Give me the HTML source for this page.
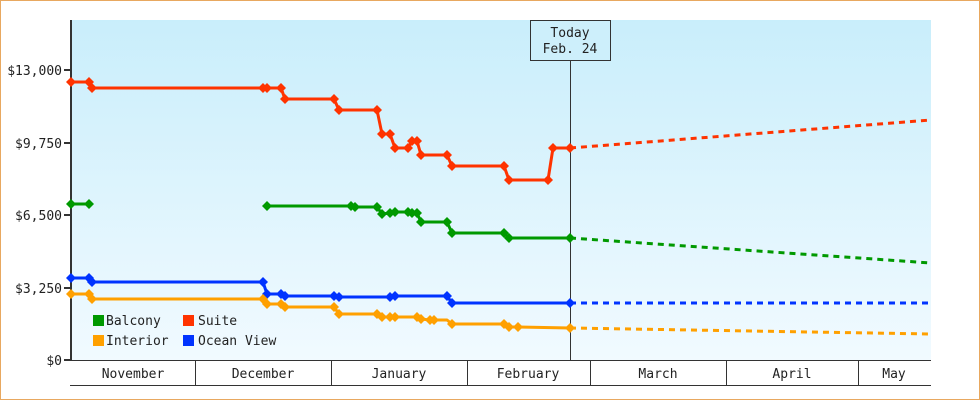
<!DOCTYPE html>
<html><head><meta charset="utf-8"><style>
body{margin:0;background:#fff}
svg{display:block}
text{font-family:"DejaVu Sans Mono","Liberation Mono",monospace;font-size:13px;fill:#222}
</style></head><body>
<svg width="980" height="400" viewBox="0 0 980 400" xmlns="http://www.w3.org/2000/svg">
<defs><linearGradient id="g" x1="0" y1="0" x2="0" y2="1"><stop offset="0" stop-color="#c9eefb"/><stop offset="1" stop-color="#f1faff"/></linearGradient></defs>
<rect x="0.5" y="0.5" width="979" height="399" fill="#fff" stroke="#e8a860"/>
<rect x="71" y="20" width="860" height="340" fill="url(#g)"/>
<g stroke="#333" stroke-width="2">
<line x1="71" y1="20" x2="71" y2="361"/>
<line x1="64" y1="70" x2="71" y2="70"/><line x1="64" y1="143" x2="71" y2="143"/><line x1="64" y1="215" x2="71" y2="215"/><line x1="64" y1="288" x2="71" y2="288"/><line x1="64" y1="360" x2="71" y2="360"/>
</g>
<g stroke="#333" stroke-width="1">
<line x1="70" y1="360.5" x2="931" y2="360.5"/><line x1="70" y1="385.5" x2="931" y2="385.5"/>
<line x1="195.5" y1="360" x2="195.5" y2="385"/><line x1="331.5" y1="360" x2="331.5" y2="385"/><line x1="467.5" y1="360" x2="467.5" y2="385"/><line x1="590.5" y1="360" x2="590.5" y2="385"/><line x1="726.5" y1="360" x2="726.5" y2="385"/><line x1="858.5" y1="360" x2="858.5" y2="385"/>
<line x1="570.5" y1="60" x2="570.5" y2="360"/>
</g>
<g text-anchor="end"><text x="62" y="75">$13,000</text><text x="62" y="148">$9,750</text><text x="62" y="220">$6,500</text><text x="62" y="293">$3,250</text><text x="62" y="365">$0</text></g>
<g text-anchor="middle"><text x="133" y="378">November</text><text x="263" y="378">December</text><text x="399" y="378">January</text><text x="528" y="378">February</text><text x="658" y="378">March</text><text x="792" y="378">April</text><text x="894" y="378">May</text></g>
<rect x="530.5" y="20.5" width="80" height="40" fill="#cdeffb" stroke="#333"/>
<text x="570" y="37" text-anchor="middle">Today</text><text x="570" y="53" text-anchor="middle">Feb. 24</text>
<g fill="none" stroke-width="3" stroke-linejoin="round">
<polyline stroke="#ff3300" points="71,82 89,82 92,88 263,88 267,88 281,88 285,99 334,99 339,110 377,110 382,134 390,134 395,148 408,148 412,141 417,141 421,155 447,155 452,166 504,166 509,180 548,180 553,148 570,148"/>
<polyline stroke="#009900" points="71,204 89,204"/>
<polyline stroke="#009900" points="267,206 351,206 355,207 377,207 382,214 390,213 395,212 408,212 412,213 417,213 421,222 447,222 452,233 504,233 509,238 570,238"/>
<polyline stroke="#0033ff" points="71,278 89,278 92,282 263,282 267,294 281,294 285,296 334,296 339,297 390,297 395,296 447,296 452,303 570,303"/>
<polyline stroke="#ffa000" points="71,294 89,294 92,299 263,299 267,304 281,304 285,307 334,307 339,314 377,314 382,317 390,317 395,317 417,317 421,319 430,320 434,320 447,320 452,324 504,324 509,327 518,327 570,328"/>
<g stroke-dasharray="6,5">
<line stroke="#ff3300" x1="570" y1="148" x2="931" y2="120"/>
<line stroke="#009900" x1="570" y1="238" x2="931" y2="263"/>
<line stroke="#0033ff" x1="570" y1="303" x2="931" y2="303"/>
<line stroke="#ffa000" x1="570" y1="328" x2="931" y2="334"/>
</g></g>
<g>
<g fill="#ff3300"><path d="M71,77l5,5-5,5-5-5z"/><path d="M89,77l5,5-5,5-5-5z"/><path d="M92,83l5,5-5,5-5-5z"/><path d="M263,83l5,5-5,5-5-5z"/><path d="M267,83l5,5-5,5-5-5z"/><path d="M281,83l5,5-5,5-5-5z"/><path d="M285,94l5,5-5,5-5-5z"/><path d="M334,94l5,5-5,5-5-5z"/><path d="M339,105l5,5-5,5-5-5z"/><path d="M377,105l5,5-5,5-5-5z"/><path d="M382,129l5,5-5,5-5-5z"/><path d="M390,129l5,5-5,5-5-5z"/><path d="M395,143l5,5-5,5-5-5z"/><path d="M408,143l5,5-5,5-5-5z"/><path d="M412,136l5,5-5,5-5-5z"/><path d="M417,136l5,5-5,5-5-5z"/><path d="M421,150l5,5-5,5-5-5z"/><path d="M447,150l5,5-5,5-5-5z"/><path d="M452,161l5,5-5,5-5-5z"/><path d="M504,161l5,5-5,5-5-5z"/><path d="M509,175l5,5-5,5-5-5z"/><path d="M548,175l5,5-5,5-5-5z"/><path d="M553,143l5,5-5,5-5-5z"/><path d="M570,143l5,5-5,5-5-5z"/></g>
<g fill="#009900"><path d="M71,199l5,5-5,5-5-5z"/><path d="M89,199l5,5-5,5-5-5z"/><path d="M267,201l5,5-5,5-5-5z"/><path d="M351,201l5,5-5,5-5-5z"/><path d="M355,202l5,5-5,5-5-5z"/><path d="M377,202l5,5-5,5-5-5z"/><path d="M382,209l5,5-5,5-5-5z"/><path d="M390,208l5,5-5,5-5-5z"/><path d="M395,207l5,5-5,5-5-5z"/><path d="M408,207l5,5-5,5-5-5z"/><path d="M412,208l5,5-5,5-5-5z"/><path d="M417,208l5,5-5,5-5-5z"/><path d="M421,217l5,5-5,5-5-5z"/><path d="M447,217l5,5-5,5-5-5z"/><path d="M452,228l5,5-5,5-5-5z"/><path d="M504,228l5,5-5,5-5-5z"/><path d="M509,233l5,5-5,5-5-5z"/><path d="M570,233l5,5-5,5-5-5z"/></g>
<g fill="#0033ff"><path d="M71,273l5,5-5,5-5-5z"/><path d="M89,273l5,5-5,5-5-5z"/><path d="M92,277l5,5-5,5-5-5z"/><path d="M263,277l5,5-5,5-5-5z"/><path d="M267,289l5,5-5,5-5-5z"/><path d="M281,289l5,5-5,5-5-5z"/><path d="M285,291l5,5-5,5-5-5z"/><path d="M334,291l5,5-5,5-5-5z"/><path d="M339,292l5,5-5,5-5-5z"/><path d="M390,292l5,5-5,5-5-5z"/><path d="M395,291l5,5-5,5-5-5z"/><path d="M447,291l5,5-5,5-5-5z"/><path d="M452,298l5,5-5,5-5-5z"/><path d="M570,298l5,5-5,5-5-5z"/></g>
<g fill="#ffa000"><path d="M71,289l5,5-5,5-5-5z"/><path d="M89,289l5,5-5,5-5-5z"/><path d="M92,294l5,5-5,5-5-5z"/><path d="M263,294l5,5-5,5-5-5z"/><path d="M267,299l5,5-5,5-5-5z"/><path d="M281,299l5,5-5,5-5-5z"/><path d="M285,302l5,5-5,5-5-5z"/><path d="M334,302l5,5-5,5-5-5z"/><path d="M339,309l5,5-5,5-5-5z"/><path d="M377,309l5,5-5,5-5-5z"/><path d="M382,312l5,5-5,5-5-5z"/><path d="M390,312l5,5-5,5-5-5z"/><path d="M395,312l5,5-5,5-5-5z"/><path d="M417,312l5,5-5,5-5-5z"/><path d="M421,314l5,5-5,5-5-5z"/><path d="M430,315l5,5-5,5-5-5z"/><path d="M434,315l5,5-5,5-5-5z"/><path d="M452,319l5,5-5,5-5-5z"/><path d="M504,319l5,5-5,5-5-5z"/><path d="M509,322l5,5-5,5-5-5z"/><path d="M518,322l5,5-5,5-5-5z"/><path d="M570,323l5,5-5,5-5-5z"/></g>
</g>
<rect x="93" y="315" width="11" height="11" fill="#009900"/><text x="106" y="325">Balcony</text>
<rect x="183" y="315" width="11" height="11" fill="#ff3300"/><text x="198" y="325">Suite</text>
<rect x="93" y="335" width="11" height="11" fill="#ffa000"/><text x="106" y="345">Interior</text>
<rect x="183" y="335" width="11" height="11" fill="#0033ff"/><text x="198" y="345">Ocean View</text>
</svg>
</body></html>
